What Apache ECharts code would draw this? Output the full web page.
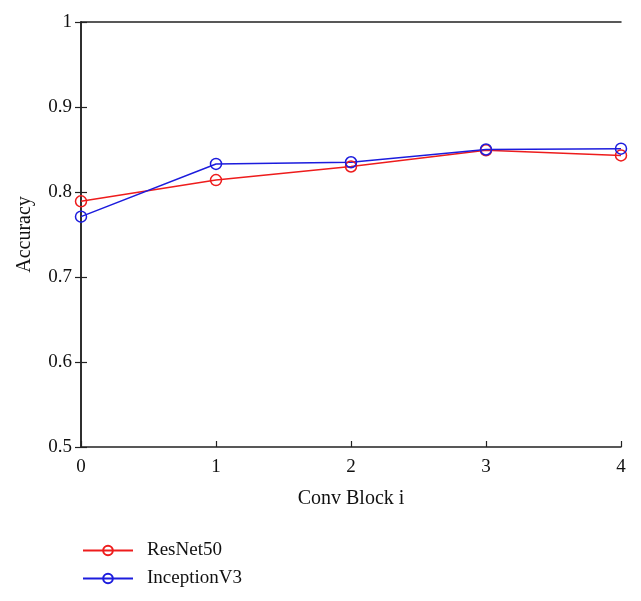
<!DOCTYPE html>
<html>
<head>
<meta charset="utf-8">
<script src="https://cdn.jsdelivr.net/npm/echarts@6/dist/echarts.min.js"></script>
<style>html,body{margin:0;padding:0;background:#fff;}#c{width:641px;height:601px;}</style>
</head>
<body>
<div id="c"></div>
<script>
const blocks = [0, 1, 2, 3, 4];
const resnet50 = [0.789, 0.814, 0.830, 0.849, 0.843];
const inceptionV3 = [0.771, 0.833, 0.835, 0.850, 0.851];
const yTicks = [0.5, 0.6, 0.7, 0.8, 0.9, 1];

const font = 'Liberation Serif';
const chart = echarts.init(document.getElementById('c'));
const pair = arr => blocks.map((b, i) => [b, arr[i]]);
const axisLine = {show: true, lineStyle: {color: '#222', width: 1.5}};
const red = '#ee1c1c', blue = '#1c1cdd';
chart.setOption({
  animation: false,
  grid: {left: 81, right: 20, top: 22, bottom: 154, containLabel: false},
  xAxis: [{
    type: 'value', min: 0, max: 4, interval: 1,
    name: 'Conv Block i', nameLocation: 'middle', nameGap: 42,
    nameTextStyle: {fontFamily: font, fontSize: 20, color: '#111'},
    axisLine: axisLine,
    axisTick: {inside: true, length: 6, lineStyle: {color: '#222', width: 1.2}},
    axisLabel: {fontFamily: font, fontSize: 19, color: '#111', margin: 11},
    splitLine: {show: false}
  }, {
    type: 'value', min: 0, max: 4, interval: 1, position: 'top',
    axisLine: axisLine, axisTick: {show: false}, axisLabel: {show: false}, splitLine: {show: false}
  }],
  yAxis: [{
    type: 'value', min: 0.5, max: 1, interval: 0.1,
    name: 'Accuracy', nameLocation: 'middle', nameGap: 46,
    nameTextStyle: {fontFamily: font, fontSize: 20, color: '#111'},
    axisLine: axisLine,
    axisTick: {inside: true, length: 6, lineStyle: {color: '#222', width: 1.2}},
    axisLabel: {fontFamily: font, fontSize: 19, color: '#111', margin: 9,
      formatter: v => { const t = yTicks.find(x => Math.abs(x - v) < 1e-6); return t === undefined ? '' : String(t); }},
    splitLine: {show: false}
  }, {
    type: 'value', min: 0.5, max: 1, interval: 0.1, position: 'right',
    axisLine: axisLine,
    axisTick: {inside: true, length: 6, lineStyle: {color: '#222', width: 1.2}},
    axisLabel: {show: false}, splitLine: {show: false}
  }],
  legend: {
    orient: 'vertical', left: 82, top: 541, itemGap: 9, padding: 0,
    itemWidth: 50, itemHeight: 12,
    textStyle: {fontFamily: font, fontSize: 19, color: '#111', padding: [0, 0, 0, 9]},
    data: ['ResNet50', 'InceptionV3']
  },
  series: [{
    name: 'ResNet50', type: 'line', data: pair(resnet50),
    symbol: 'circle', symbolSize: 11, color: red,
    lineStyle: {width: 1.5, color: red},
    itemStyle: {color: 'rgba(0,0,0,0)', borderColor: red, borderWidth: 1.5}
  }, {
    name: 'InceptionV3', type: 'line', data: pair(inceptionV3),
    symbol: 'circle', symbolSize: 11, color: blue,
    lineStyle: {width: 1.5, color: blue},
    itemStyle: {color: 'rgba(0,0,0,0)', borderColor: blue, borderWidth: 1.5}
  }]
});
</script>
</body>
</html>
